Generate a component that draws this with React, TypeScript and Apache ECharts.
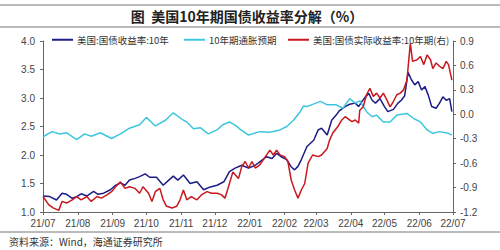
import React, { useEffect, useRef } from "react";
import * as echarts from "echarts";

const title = "图  美国10年期国债收益率分解（%）";
const source = "资料来源：Wind，海通证券研究所";
const seriesNames = ["美国:国债收益率:10年", "10年期通胀预期", "美国:国债实际收益率:10年期(右)"];

const nominalDates = ["2021-07-01","2021-07-07","2021-07-13","2021-07-18","2021-07-22","2021-07-27","2021-07-31","2021-08-04","2021-08-09","2021-08-15","2021-08-19","2021-08-24","2021-08-30","2021-09-03","2021-09-08","2021-09-12","2021-09-16","2021-09-21","2021-09-25","2021-09-30","2021-10-04","2021-10-10","2021-10-16","2021-10-21","2021-10-25","2021-10-29","2021-11-03","2021-11-09","2021-11-15","2021-11-21","2021-11-27","2021-12-03","2021-12-09","2021-12-14","2021-12-19","2021-12-25","2021-12-31","2022-01-06","2022-01-12","2022-01-16","2022-01-21","2022-01-25","2022-01-29","2022-02-03","2022-02-07","2022-02-10","2022-02-13","2022-02-16","2022-02-21","2022-02-27","2022-03-03","2022-03-06","2022-03-11","2022-03-15","2022-03-19","2022-03-22","2022-03-27","2022-03-31","2022-04-05","2022-04-08","2022-04-11","2022-04-14","2022-04-17","2022-04-20","2022-04-23","2022-04-27","2022-05-01","2022-05-04","2022-05-09","2022-05-13","2022-05-16","2022-05-19","2022-05-22","2022-05-25","2022-05-28","2022-05-31","2022-06-03","2022-06-06","2022-06-09","2022-06-12","2022-06-16","2022-06-19","2022-06-22","2022-06-25","2022-06-28","2022-06-30"];
const nominalValues = [1.28,1.27,1.21,1.33,1.31,1.24,1.27,1.32,1.28,1.36,1.31,1.33,1.39,1.46,1.51,1.47,1.56,1.59,1.62,1.67,1.61,1.61,1.47,1.56,1.63,1.56,1.65,1.5,1.53,1.39,1.44,1.47,1.53,1.71,1.77,1.82,1.77,1.82,1.91,1.97,1.94,2.03,1.97,1.92,1.79,1.74,1.8,1.92,2.15,2.26,2.44,2.47,2.35,2.61,2.7,2.78,2.85,2.89,2.91,2.85,2.94,3.02,3.08,2.96,2.91,2.99,2.85,2.76,2.8,2.91,2.96,3.04,3.45,3.32,3.23,3.29,3.14,3.2,3.05,2.85,2.82,2.91,3.02,2.96,2.99,2.76];

const breakevenDates = ["2021-07-01","2021-07-09","2021-07-16","2021-07-22","2021-07-31","2021-08-07","2021-08-13","2021-08-21","2021-08-31","2021-09-08","2021-09-16","2021-09-25","2021-10-01","2021-10-09","2021-10-18","2021-10-25","2021-11-03","2021-11-06","2021-11-12","2021-11-18","2021-11-25","2021-12-03","2021-12-08","2021-12-14","2021-12-20","2021-12-23","2021-12-31","2022-01-10","2022-01-19","2022-01-28","2022-02-03","2022-02-09","2022-02-15","2022-02-18","2022-02-21","2022-02-25","2022-03-05","2022-03-11","2022-03-19","2022-03-25","2022-03-31","2022-04-05","2022-04-09","2022-04-15","2022-04-20","2022-04-24","2022-04-30","2022-05-06","2022-05-12","2022-05-21","2022-05-27","2022-06-02","2022-06-08","2022-06-13","2022-06-19","2022-06-27","2022-06-30"];
const breakevenValues = [2.32,2.41,2.37,2.39,2.27,2.37,2.33,2.39,2.29,2.37,2.47,2.53,2.66,2.51,2.61,2.74,2.61,2.58,2.46,2.48,2.37,2.44,2.53,2.58,2.51,2.46,2.35,2.41,2.4,2.44,2.5,2.61,2.76,2.86,2.85,2.88,2.94,2.88,2.88,2.82,2.99,2.91,2.95,2.76,2.67,2.7,2.58,2.58,2.7,2.73,2.64,2.58,2.44,2.38,2.41,2.38,2.35];

const realDates = ["2021-07-01","2021-07-06","2021-07-10","2021-07-15","2021-07-18","2021-07-22","2021-07-27","2021-07-31","2021-08-04","2021-08-09","2021-08-13","2021-08-18","2021-08-22","2021-08-27","2021-08-31","2021-09-05","2021-09-08","2021-09-12","2021-09-16","2021-09-21","2021-09-25","2021-09-28","2021-10-03","2021-10-06","2021-10-09","2021-10-13","2021-10-16","2021-10-19","2021-10-24","2021-10-28","2021-10-31","2021-11-03","2021-11-06","2021-11-10","2021-11-15","2021-11-19","2021-11-24","2021-11-28","2021-12-03","2021-12-07","2021-12-10","2021-12-14","2021-12-17","2021-12-22","2021-12-25","2021-12-28","2021-12-31","2022-01-03","2022-01-06","2022-01-10","2022-01-15","2022-01-19","2022-01-22","2022-01-25","2022-01-28","2022-02-01","2022-02-04","2022-02-07","2022-02-10","2022-02-13","2022-02-16","2022-02-19","2022-02-22","2022-02-26","2022-03-03","2022-03-06","2022-03-11","2022-03-13","2022-03-16","2022-03-21","2022-03-24","2022-03-27","2022-03-30","2022-04-02","2022-04-05","2022-04-08","2022-04-09","2022-04-12","2022-04-15","2022-04-18","2022-04-21","2022-04-24","2022-04-27","2022-04-30","2022-05-03","2022-05-06","2022-05-09","2022-05-12","2022-05-15","2022-05-18","2022-05-21","2022-05-24","2022-05-26","2022-05-30","2022-06-02","2022-06-05","2022-06-08","2022-06-11","2022-06-13","2022-06-16","2022-06-19","2022-06-22","2022-06-25","2022-06-27","2022-06-30"];
const realValues = [-1.01,-1.11,-1.15,-1.18,-1.07,-1.09,-1.05,-1.01,-1.05,-1.01,-1.07,-1.01,-1.03,-0.99,-0.95,-0.87,-0.83,-0.91,-0.89,-0.91,-0.97,-0.89,-0.97,-1.07,-0.95,-0.91,-1.05,-1.13,-1.15,-1.13,-1.05,-0.93,-1.05,-1.01,-1.05,-0.99,-0.95,-0.97,-0.97,-0.99,-1.03,-0.85,-0.71,-0.79,-0.64,-0.58,-0.66,-0.58,-0.66,-0.62,-0.52,-0.44,-0.5,-0.44,-0.5,-0.52,-0.58,-0.81,-0.93,-1.03,-0.93,-0.85,-0.6,-0.5,-0.52,-0.5,-0.42,-0.32,-0.23,-0.14,-0.07,-0.03,-0.06,-0.09,-0.07,-0.11,0.05,0.09,0.24,0.32,0.22,0.26,0.2,0.26,0.18,0.09,0.16,0.24,0.26,0.3,0.42,0.87,0.65,0.67,0.71,0.61,0.73,0.67,0.56,0.63,0.59,0.56,0.65,0.61,0.42];

const leftTicks = { min: 1.0, max: 4.0, step: 0.5 };
const rightTicks = { min: -1.2, max: 0.9, step: 0.3 };
const xRange = ["2021-07-01", "2022-07-01"];

const colors = ["#1C1C86", "#3EC6DF", "#C8181F"];

function zip(d: string[], v: number[]) {
  return d.map((x, i) => [x, v[i]]);
}

export default function App() {
  const ref = useRef<HTMLDivElement>(null);
  useEffect(() => {
    if (!ref.current) return;
    const chart = echarts.init(ref.current, null, { renderer: "svg" });
    const labelStyle = { color: "#444", fontSize: 10, fontFamily: "Liberation Sans, Arial" };
    const legendBase = {
      top: 30,
      itemWidth: 21,
      itemHeight: 2,
      itemGap: 4,
      icon: "rect",
      textStyle: { color: "#333", fontSize: 9.5, fontFamily: "Noto Sans CJK SC", padding: [0, 0, 0, -1] },
    };
    chart.setOption({
      animation: false,
      color: colors,
      grid: { left: 43, right: 47, top: 41, bottom: 38, containLabel: false },
      legend: [
        { ...legendBase, left: 47, data: [seriesNames[0]] },
        { ...legendBase, left: 179, data: [seriesNames[1]] },
        { ...legendBase, left: 283, data: [seriesNames[2]] },
      ],
      xAxis: {
        type: "time",
        min: xRange[0],
        max: xRange[1],
        splitNumber: 12,
        minInterval: 28 * 86400000,
        maxInterval: 31 * 86400000,
        axisLine: { onZero: false, lineStyle: { color: "#666", width: 1 } },
        axisTick: { show: true, length: 3, lineStyle: { color: "#666" } },
        splitLine: { show: false },
        axisLabel: {
          ...labelStyle,
          margin: 6,
          hideOverlap: false,
          showMinLabel: true,
          showMaxLabel: true,
          formatter: (v: number) => {
            const d = new Date(v);
            const yy = String(d.getFullYear()).slice(2);
            const mm = String(d.getMonth() + 1).padStart(2, "0");
            return `${yy}/${mm}`;
          },
        },
      },
      yAxis: [
        {
          type: "value",
          min: leftTicks.min,
          max: leftTicks.max,
          interval: leftTicks.step,
          axisLine: { show: true, onZero: false, lineStyle: { color: "#666" } },
          axisTick: { show: true, length: 3, lineStyle: { color: "#666" } },
          splitLine: { show: false },
          axisLabel: { ...labelStyle, margin: 8, formatter: (v: number) => v.toFixed(1) },
        },
        {
          type: "value",
          min: rightTicks.min,
          max: rightTicks.max,
          interval: rightTicks.step,
          position: "right",
          axisLine: { show: true, onZero: false, lineStyle: { color: "#666" } },
          axisTick: { show: true, length: 3, lineStyle: { color: "#666" } },
          splitLine: { show: false },
          axisLabel: { ...labelStyle, margin: 7, formatter: (v: number) => v.toFixed(1) },
        },
      ],
      series: [
        {
          name: seriesNames[0],
          type: "line",
          yAxisIndex: 0,
          showSymbol: false,
          lineStyle: { width: 1.5 },
          data: zip(nominalDates, nominalValues),
        },
        {
          name: seriesNames[1],
          type: "line",
          yAxisIndex: 0,
          showSymbol: false,
          lineStyle: { width: 1.5 },
          data: zip(breakevenDates, breakevenValues),
        },
        {
          name: seriesNames[2],
          type: "line",
          yAxisIndex: 1,
          showSymbol: false,
          lineStyle: { width: 1.5 },
          data: zip(realDates, realValues),
        },
      ],
      graphic: [
        { type: "line", shape: { x1: 0, y1: 5, x2: 500, y2: 5 }, style: { stroke: "#777", lineWidth: 1 } },
        { type: "line", shape: { x1: 0, y1: 27, x2: 500, y2: 27 }, style: { stroke: "#777", lineWidth: 1 } },
        {
          type: "text",
          x: 247,
          y: 16,
          style: {
            text: title,
            fill: "#222",
            fontSize: 14,
            fontWeight: "bold",
            fontFamily: "Noto Sans CJK SC",
            align: "center",
            verticalAlign: "middle",
          },
        },
        { type: "line", shape: { x1: 0, y1: 232, x2: 500, y2: 232 }, style: { stroke: "#777", lineWidth: 1 } },
        {
          type: "text",
          x: 9,
          y: 241,
          style: {
            text: source,
            fill: "#333",
            fontSize: 10,
            fontFamily: "Noto Sans CJK SC",
            align: "left",
            verticalAlign: "middle",
          },
        },
      ],
    });
    return () => chart.dispose();
  }, []);
  return <div ref={ref} style={{ width: 500, height: 250, position: "absolute", left: 0, top: 0 }} />;
}
